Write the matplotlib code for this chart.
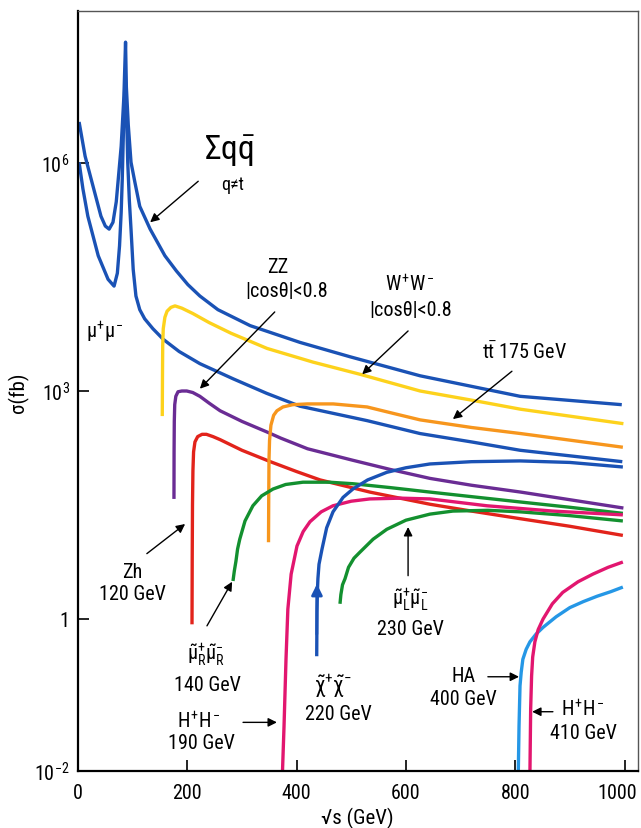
import matplotlib
matplotlib.use("Agg")
import numpy as np
import matplotlib.pyplot as plt
from matplotlib.transforms import ScaledTranslation

# fuente condensada parecida al original
plt.rcParams['font.family'] = ['Roboto Condensed', 'DejaVu Sans']
plt.rcParams['mathtext.fontset'] = 'custom'
plt.rcParams['mathtext.rm'] = 'Roboto Condensed'
plt.rcParams['mathtext.it'] = 'Roboto Condensed'
plt.rcParams['mathtext.bf'] = 'Roboto Condensed'
plt.rcParams['mathtext.fallback'] = 'stixsans'

# ------------------------------------------------------------
# datos: sqrt(s) en GeV, log10(sigma / fb)
# ------------------------------------------------------------
qq_x = [2, 13, 24, 42, 50, 57, 64, 70, 79, 84, 87, 88.5, 92, 97, 104, 113, 132, 159, 180, 201, 223, 256, 315, 406, 498, 626, 809, 995]
qq_lg = [6.54, 6.09, 5.79, 5.30, 5.17, 5.13, 5.22, 5.49, 6.22, 6.88, 7.59, 7.0, 6.5, 6.01, 5.75, 5.43, 5.13, 4.78, 4.58, 4.40, 4.25, 4.07, 3.86, 3.64, 3.45, 3.20, 2.93, 2.82]

mumu_x = [2, 9, 18, 37, 55, 66, 72, 76, 79, 81, 84, 86.5, 89, 91, 94, 97, 101, 106, 113, 122, 137, 156, 185, 223, 284, 345, 406, 529, 626, 720, 809, 996]
mumu_lg = [6.01, 5.66, 5.30, 4.78, 4.47, 4.38, 4.55, 4.91, 5.35, 5.79, 6.67, 7.2, 6.6, 6.01, 5.5, 5.13, 4.6, 4.25, 4.07, 3.95, 3.82, 3.68, 3.52, 3.36, 3.16, 2.97, 2.80, 2.61, 2.44, 2.33, 2.22, 2.07]

ww_x = [154.2, 154.6, 155, 156, 159, 163, 170, 177.5, 190, 210, 240, 280, 346, 430, 516, 626, 720, 810, 998]
ww_lg = [2.67, 3.2, 3.6, 3.82, 3.97, 4.05, 4.10, 4.12, 4.09, 4.02, 3.90, 3.76, 3.56, 3.38, 3.22, 3.00, 2.88, 2.76, 2.57]

zz_x = [175.6, 175.8, 176.2, 177, 179, 183, 190, 199, 210, 223, 240, 260, 300, 346, 371, 420, 502, 570, 644, 720, 810, 998]
zz_lg = [1.58, 2.2, 2.6, 2.82, 2.93, 2.99, 3.0, 3.0, 2.98, 2.93, 2.84, 2.74, 2.6, 2.46, 2.38, 2.24, 2.09, 1.97, 1.85, 1.76, 1.67, 1.46]

zh_x = [208.6, 209, 209.5, 210.3, 211.5, 214, 219, 227, 235, 247, 260, 300, 352, 400, 443, 534, 644, 720, 809, 900, 997]
zh_lg = [-0.07, 0.8, 1.5, 1.95, 2.2, 2.33, 2.40, 2.43, 2.43, 2.40, 2.36, 2.22, 2.07, 1.94, 1.83, 1.67, 1.51, 1.42, 1.32, 1.22, 1.10]

tt_x = [348.6, 349, 349.5, 350.5, 353, 358, 364, 375, 393, 420, 467, 529, 580, 626, 720, 810, 997]
tt_lg = [1.01, 1.6, 2.1, 2.35, 2.55, 2.68, 2.74, 2.79, 2.82, 2.83, 2.83, 2.79, 2.70, 2.62, 2.52, 2.44, 2.26]

chi_x = [436.8, 437.3, 438, 439, 441, 446.5, 455, 466.6, 485, 503, 530, 565, 600, 644, 720, 809, 900, 997]
chi_lg = [-0.49, 0.1, 0.35, 0.53, 0.72, 0.92, 1.2, 1.41, 1.6, 1.71, 1.83, 1.93, 1.99, 2.04, 2.07, 2.08, 2.06, 2.0]

hh190_x = [374.2, 377, 380.6, 384, 390, 400.7, 412, 424.5, 445, 466.6, 500, 534, 590, 644, 748, 869, 997]
hh190_lg = [-2.0, -1.41, -0.53, 0.13, 0.59, 0.96, 1.15, 1.28, 1.41, 1.49, 1.55, 1.58, 1.59, 1.58, 1.49, 1.42, 1.37]

muR_x = [283.6, 286, 289, 292, 296, 305.6, 320, 336, 356.8, 380, 411.7, 460, 503, 570, 644, 720, 809, 900, 997]
muR_lg = [0.5, 0.63, 0.76, 0.92, 1.05, 1.29, 1.49, 1.62, 1.71, 1.77, 1.80, 1.80, 1.78, 1.73, 1.67, 1.61, 1.54, 1.47, 1.39]

muL_x = [479.4, 481, 484, 488.6, 495, 505, 516, 540, 565, 600, 644, 686, 750, 809, 900, 997]
muL_lg = [0.2, 0.32, 0.45, 0.53, 0.68, 0.8, 0.88, 1.05, 1.18, 1.30, 1.38, 1.42, 1.43, 1.41, 1.36, 1.29]

ha_x = [805.7, 807, 808.8, 811, 814, 820, 827, 838, 851, 875, 900, 925, 950, 975, 997]
ha_lg = [-2.0, -1.41, -0.88, -0.7, -0.53, -0.40, -0.30, -0.2, -0.11, 0.03, 0.15, 0.23, 0.30, 0.36, 0.42]

hh410_x = [827, 828.3, 830, 832, 836, 842, 851, 868, 887, 915, 942, 970, 997]
hh410_lg = [-2.0, -1.18, -0.75, -0.5, -0.30, -0.14, 0.0, 0.2, 0.35, 0.49, 0.59, 0.68, 0.75]

ytick_vals = [1e-2, 1, 1e3, 1e6]
ytick_lbls = [r'$10^{-2}$', '1', r'$10^3$', r'$10^6$']
xtick_vals = [0, 200, 400, 600, 800, 1000]

# colores
azul = '#1a52b5'
amarillo = '#fdd21c'
morado = '#6a2c94'
rojo = '#e2231b'
naranja = '#f7961d'
verde = '#13902f'
rosa = '#e2166f'
celeste = '#2597e6'

# ------------------------------------------------------------
# figura
# ------------------------------------------------------------
fig = plt.figure(figsize=(6.41, 8.29), dpi=100)
ax = fig.add_axes([78/641, 57/829, 560/641, 760/829])

curvas = [
    (qq_x, qq_lg, azul), (mumu_x, mumu_lg, azul), (ww_x, ww_lg, amarillo),
    (zz_x, zz_lg, morado), (zh_x, zh_lg, rojo), (tt_x, tt_lg, naranja),
    (muR_x, muR_lg, verde), (muL_x, muL_lg, verde), (hh190_x, hh190_lg, rosa),
    (chi_x, chi_lg, azul), (ha_x, ha_lg, celeste), (hh410_x, hh410_lg, rosa),
]
for xs, lg, c in curvas:
    ax.plot(xs, 10 ** np.array(lg), color=c, lw=2.4, solid_capstyle='butt', solid_joinstyle='round')

ax.set_yscale('log')
ax.set_xlim(0, 1024.7)
ax.set_ylim(1e-2, 1e8)
ax.set_xticks(xtick_vals)
ax.set_xticklabels([str(v) for v in xtick_vals])
ax.set_yticks(ytick_vals)
ax.set_yticklabels(ytick_lbls)
ax.minorticks_off()
ax.tick_params(direction='in', length=8, width=1.2, labelsize=14.5, pad=6)
ax.tick_params(axis='x', pad=9)
for lado in ['left', 'bottom']:
    ax.spines[lado].set_linewidth(1.6)
for lado in ['top', 'right']:
    ax.spines[lado].set_linewidth(1.0)
    ax.spines[lado].set_color('#555555')

# el "1000" queda pegado al borde: moverlo un poco a la izquierda
lab = ax.xaxis.get_major_ticks()[-1].label1
lab.set_transform(lab.get_transform() + ScaledTranslation(-5/72, 0, fig.dpi_scale_trans))

fig.text(18/641, 1 - 393/829, 'σ(fb)', rotation=90, fontsize=15, ha='center', va='center')
fig.text(357/641, 1 - 818/829, '√s (GeV)', fontsize=15, ha='center', va='center')


def flecha(cola, punta, color='k', lw=1.0, ms=13):
    ax.annotate('', xy=punta, xytext=cola,
                arrowprops=dict(arrowstyle='-|>', color=color, lw=lw, mutation_scale=ms,
                                shrinkA=0, shrinkB=0))


fs = 14.5
ax.text(278, 10**6.16, r'$\Sigma q\bar{q}$', fontsize=24, ha='center', va='center')
ax.text(282, 10**5.73, 'q≠t', fontsize=13, ha='center', va='center')
flecha((220, 10**5.76), (132, 10**5.22))

ax.text(48, 10**3.79, r'$\mu^{+}\mu^{-}$', fontsize=fs, ha='center', va='center')

ax.text(366, 10**4.64, 'ZZ', fontsize=fs, ha='center', va='center')
ax.text(381, 10**4.32, '|cosθ|<0.8', fontsize=fs, ha='center', va='center')
flecha((360, 10**4.04), (223, 10**3.03))

ax.text(607, 10**4.42, r'$W^{+}W^{-}$', fontsize=fs, ha='center', va='center')
ax.text(609, 10**4.07, '|cosθ|<0.8', fontsize=fs, ha='center', va='center')
flecha((604, 10**3.79), (520, 10**3.22))

ax.text(818, 10**3.53, r'$t\bar{t}$ 175 GeV', fontsize=fs, ha='center', va='center')
flecha((794, 10**3.26), (686, 10**2.63))

ax.text(99, 10**0.63, 'Zh', fontsize=fs, ha='center', va='center')
ax.text(100, 10**0.33, '120 GeV', fontsize=fs, ha='center', va='center')
flecha((126, 10**0.86), (196, 10**1.25))

ax.text(234, 10**-0.46, r'$\tilde{\mu}^{+}_{R}\tilde{\mu}^{-}_{R}$', fontsize=fs, ha='center', va='center')
ax.text(236, 10**-0.86, '140 GeV', fontsize=fs, ha='center', va='center')
flecha((236, 10**-0.09), (282, 10**0.49))

ax.text(221, 10**-1.33, r'$H^{+}H^{-}$', fontsize=fs, ha='center', va='center')
ax.text(225, 10**-1.62, '190 GeV', fontsize=fs, ha='center', va='center')
flecha((302, 10**-1.36), (364, 10**-1.36))

ax.text(467, 10**-0.88, r'$\tilde{\chi}^{+}\tilde{\chi}^{-}$', fontsize=fs + 1, ha='center', va='center')
ax.text(476, 10**-1.25, '220 GeV', fontsize=fs, ha='center', va='center')
flecha((437, 10**-0.2), (437.3, 10**0.46), color=azul, lw=2.0, ms=16)

ax.text(608, 10**0.26, r'$\tilde{\mu}^{+}_{L}\tilde{\mu}^{-}_{L}$', fontsize=fs, ha='center', va='center')
ax.text(609, 10**-0.13, '230 GeV', fontsize=fs, ha='center', va='center')
flecha((604, 10**0.57), (604, 10**1.21))

ax.text(706, 10**-0.75, 'HA', fontsize=fs, ha='center', va='center')
ax.text(706, 10**-1.05, '400 GeV', fontsize=fs, ha='center', va='center')
flecha((750, 10**-0.76), (807, 10**-0.76))

ax.text(924, 10**-1.17, r'$H^{+}H^{-}$', fontsize=fs, ha='center', va='center')
ax.text(924, 10**-1.49, '410 GeV', fontsize=fs, ha='center', va='center')
flecha((869, 10**-1.22), (831, 10**-1.22))

fig.savefig('out.png', dpi=100)
